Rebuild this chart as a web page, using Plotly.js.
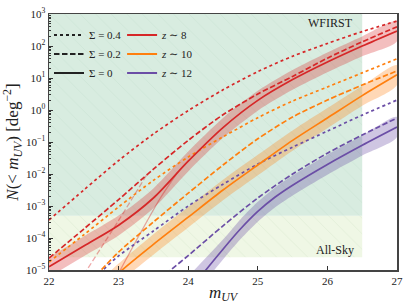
<!DOCTYPE html>
<html><head><meta charset="utf-8">
<script src="https://cdn.plot.ly/plotly-3.0.1.min.js"></script>
<style>html,body{margin:0;padding:0;background:#fff}#chart{width:410px;height:308px}</style>
</head><body><div id="chart"></div>
<script>
// ---- data (log10 of N(<m_UV) [deg^-2]) ----
const mag = [22, 22.5, 23, 23.5, 24, 24.5, 25, 25.5, 26, 26.5, 27];

// z ~ 8
const z8_s04 = [-3.44, -2.50, -1.58, -0.75, -0.02, 0.63, 1.20, 1.68, 2.08, 2.45, 2.78];
const z8_s02 = [-4.63, -3.72, -2.80, -1.85, -0.95, -0.15, 0.50, 1.05, 1.62, 2.13, 2.60];
const z8_s0  = [-4.90, -4.25, -3.60, -2.75, -1.60, -0.55, 0.30, 0.95, 1.50, 2.00, 2.47];
const z8_hi  = [-4.60, -3.95, -3.30, -2.45, -1.30, -0.25, 0.60, 1.25, 1.80, 2.30, 2.77];
const z8_lo  = [-5.22, -4.57, -3.92, -3.07, -1.92, -0.87, -0.02, 0.63, 1.18, 1.68, 2.15];
const z8_paleDash_mag = [22.5, 22.75, 23.0, 23.2, 23.4];
const z8_paleDash     = [-5.15, -4.30, -3.45, -2.75, -2.04];
const z8_paleSolid_mag = [23.0, 23.3, 23.6, 23.85];
const z8_paleSolid     = [-5.10, -3.90, -2.75, -1.94];

// z ~ 10
const z10_s04 = [-4.75, -3.90, -3.03, -2.20, -1.47, -0.84, -0.24, 0.28, 0.72, 1.16, 1.60];
const z10_s02_mag = [22.6, 22.75, 23, 23.5, 24, 24.5, 25, 25.5, 26, 26.5, 27];
const z10_s02     = [-5.35, -5.00, -4.44, -3.50, -2.60, -1.72, -0.90, -0.22, 0.31, 0.78, 1.22];
const z10_s0_mag  = [22.9, 23, 23.5, 24, 24.5, 25, 25.5, 26, 26.5, 27];
const z10_s0      = [-5.35, -5.10, -4.20, -3.35, -2.50, -1.72, -0.95, -0.25, 0.45, 1.10];
const z10_band_mag = [22.8, 23, 23.5, 24, 24.5, 25, 25.5, 26, 26.5, 27];
const z10_hi = [-5.20, -4.80, -3.88, -3.03, -2.18, -1.40, -0.64, 0.06, 0.75, 1.40];
const z10_lo = [-5.90, -5.42, -4.52, -3.67, -2.82, -2.04, -1.27, -0.57, 0.13, 0.78];

// z ~ 12
const z12_s04_mag = [22.6, 22.75, 23, 23.5, 24, 24.5, 25, 25.5, 26, 26.5, 27];
const z12_s04     = [-5.35, -5.05, -4.56, -3.78, -3.00, -2.32, -1.69, -1.16, -0.66, -0.16, 0.31];
const z12_s02_mag = [23.6, 23.75, 24, 24.5, 25, 25.5, 26, 26.5, 27];
const z12_s02     = [-5.30, -5.00, -4.55, -3.62, -2.75, -2.00, -1.35, -0.78, -0.25];
const z12_s0_mag  = [24.1, 24.2, 24.5, 24.75, 25, 25.25, 25.5, 26, 26.5, 27];
const z12_s0      = [-5.45, -5.15, -4.35, -3.72, -3.17, -2.72, -2.35, -1.70, -1.10, -0.53];
const z12_band_mag = [24.0, 24.5, 24.75, 25, 25.25, 25.5, 26, 26.5, 27];
const z12_hi = [-5.20, -4.05, -3.42, -2.87, -2.42, -2.05, -1.40, -0.80, -0.22];
const z12_lo = [-6.00, -4.67, -4.04, -3.49, -3.04, -2.67, -2.02, -1.42, -0.84];

// survey regions
const wfirst_mag = [22, 26.5];
const wfirst_N = [5e-4, 1e3];
const allsky_mag = [22, 26.5];
const allsky_N = [2.5e-5, 5e-4];

// labels
const sigmaLabels = ['Σ = 0.4', 'Σ = 0.2', 'Σ = 0'];
const zLabels = ['<i>z</i> ∼ 8', '<i>z</i> ∼ 10', '<i>z</i> ∼ 12'];
const yTickExp = [-5, -4, -3, -2, -1, 0, 1, 2, 3];
const xTicks = [22, 23, 24, 25, 26, 27];

// ---- build ----
const P = a => a.map(v => Math.pow(10, v));
const RED = '#d62728', ORANGE = '#ff7f0e', PURPLE = '#6b4ea6';
const FONT = 'Liberation Serif, DejaVu Serif, serif';
const DASH = '5.5px,2.5px';

function box(xr, yr, color, hatch) {
  return {
    x: [xr[0], xr[1], xr[1], xr[0], xr[0]],
    y: [yr[0], yr[0], yr[1], yr[1], yr[0]],
    mode: 'lines', fill: 'toself', fillcolor: color,
    fillpattern: {shape: '\\', bgcolor: color, fgcolor: hatch, size: 11, solidity: 0.06, fillmode: 'replace'},
    line: {width: 0}, hoverinfo: 'skip', showlegend: false
  };
}
function band(m, hi, lo, color) {
  return {
    x: m.concat(m.slice().reverse()),
    y: P(hi).concat(P(lo).reverse()),
    mode: 'lines', fill: 'toself', fillcolor: color,
    line: {width: 0, shape: 'spline', smoothing: 0.8}, hoverinfo: 'skip', showlegend: false
  };
}
function curve(m, v, color, dash, width) {
  return {
    x: m, y: P(v), mode: 'lines',
    line: {color: color, dash: dash, width: width || 1.7, shape: 'spline', smoothing: 0.8},
    hoverinfo: 'skip', showlegend: false
  };
}

const traces = [
  box(allsky_mag, allsky_N, 'rgb(239,247,229)', 'rgba(200,222,190,0.45)'),
  box(wfirst_mag, wfirst_N, 'rgb(216,236,224)', 'rgba(185,215,198,0.45)'),
  band(mag, z8_hi, z8_lo, 'rgba(214,39,40,0.30)'),
  band(z10_band_mag, z10_hi, z10_lo, 'rgba(255,127,14,0.30)'),
  band(z12_band_mag, z12_hi, z12_lo, 'rgba(107,78,166,0.32)'),
  curve(z8_paleDash_mag, z8_paleDash, 'rgba(214,39,40,0.4)', DASH, 1.3),
  curve(z8_paleSolid_mag, z8_paleSolid, 'rgba(214,39,40,0.4)', 'solid', 1.3),
  curve(z12_s04_mag, z12_s04, PURPLE, 'dot'),
  curve(z12_s02_mag, z12_s02, PURPLE, DASH),
  curve(z12_s0_mag, z12_s0, PURPLE, 'solid'),
  curve(mag, z10_s04, ORANGE, 'dot'),
  curve(z10_s02_mag, z10_s02, ORANGE, DASH),
  curve(z10_s0_mag, z10_s0, ORANGE, 'solid'),
  curve(mag, z8_s04, RED, 'dot'),
  curve(mag, z8_s02, RED, DASH),
  curve(mag, z8_s0, RED, 'solid')
];

// legend entries
const sigDash = ['dot', DASH, 'solid'];
sigmaLabels.forEach((t, i) => traces.push({
  x: [null], y: [null], mode: 'lines', name: t, legend: 'legend',
  line: {color: '#222', dash: sigDash[i], width: 2}
}));
[RED, ORANGE, PURPLE].forEach((c, i) => traces.push({
  x: [null], y: [null], mode: 'lines', name: zLabels[i], legend: 'legend2',
  line: {color: c, width: 2}
}));

const minorVals = [];
for (let e = -5; e < 3; e++) for (let k = 2; k <= 9; k++) minorVals.push(k * Math.pow(10, e));

const legendBase = {
  bgcolor: 'rgba(0,0,0,0)', borderwidth: 0, font: {family: FONT, size: 11, color: '#222'},
  xanchor: 'left', yanchor: 'top', tracegroupgap: 0, itemwidth: 30
};

const layout = {
  width: 410, height: 308,
  margin: {l: 49, r: 13, t: 14, b: 38},
  paper_bgcolor: '#fff', plot_bgcolor: '#fff',
  font: {family: FONT, color: '#222'},
  xaxis: {
    range: [22, 27], tickmode: 'array', tickvals: xTicks, ticktext: xTicks.map(String),
    ticks: 'inside', ticklen: 4, tickwidth: 1, tickcolor: '#333',
    showline: true, mirror: true, linecolor: '#444', linewidth: 1.5,
    showgrid: false, zeroline: false,
    tickfont: {family: FONT, size: 11, color: '#222'},
    title: {text: '<i>m</i><sub><i>UV</i></sub>', font: {family: FONT, size: 17, color: '#222'}, standoff: 0}
  },
  yaxis: {
    type: 'log', range: [-5, 3],
    tickmode: 'array', tickvals: yTickExp.map(e => Math.pow(10, e)),
    ticktext: yTickExp.map(e => '10<sup>' + (e < 0 ? '−' + (-e) : e) + '</sup>'),
    ticks: 'inside', ticklen: 4, tickwidth: 1, tickcolor: '#333',
    minor: {tickmode: 'array', tickvals: minorVals, ticks: 'inside', ticklen: 2, tickcolor: '#333', showgrid: false},
    showline: true, mirror: true, linecolor: '#444', linewidth: 1.5,
    showgrid: false, zeroline: false,
    tickfont: {family: FONT, size: 11, color: '#222'},
    title: {text: '<i>N</i>(&lt; <i>m</i><sub><i>UV</i></sub>) [deg<sup>−2</sup>]', font: {family: FONT, size: 17, color: '#222'}, standoff: 4}
  },
  legend: Object.assign({x: 0.0, y: 0.975}, legendBase),
  legend2: Object.assign({x: 0.21, y: 0.975}, legendBase),
  annotations: [
    {text: 'WFIRST', xref: 'paper', yref: 'paper', x: 0.878, y: 0.965, xanchor: 'right', yanchor: 'middle',
     showarrow: false, font: {family: FONT, size: 12, color: '#222'}},
    {text: 'All-Sky', xref: 'paper', yref: 'paper', x: 0.882, y: 0.078, xanchor: 'right', yanchor: 'middle',
     showarrow: false, font: {family: FONT, size: 12, color: '#222'}}
  ],
  showlegend: true
};

Plotly.newPlot('chart', traces, layout, {staticPlot: true, displayModeBar: false});
</script></body></html>
